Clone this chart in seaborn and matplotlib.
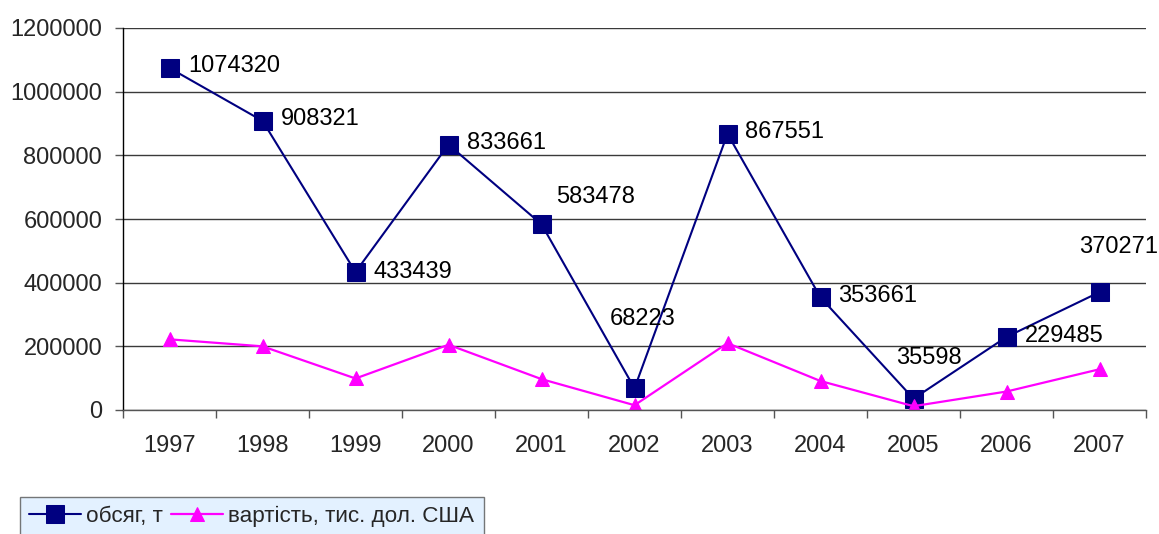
import numpy as np
import pandas as pd
import seaborn as sns
import matplotlib.pyplot as plt
from matplotlib.ticker import FixedLocator, NullFormatter

years = ['1997', '1998', '1999', '2000', '2001', '2002', '2003', '2004', '2005', '2006', '2007']
volume = [1074320, 908321, 433439, 833661, 583478, 68223, 867551, 353661, 35598, 229485, 370271]
value = [222000, 200000, 99000, 205000, 97000, 15000, 210000, 91000, 12000, 58000, 128000]
name_volume = 'обсяг, т'
name_value = 'вартість, тис. дол. США'

# label placement (pixels from the marker, ha)
label_off = [(19, 2, 'left'), (18, 2, 'left'), (18, 0, 'left'), (18, 2, 'left'),
             (15, 27, 'left'), (8, 69, 'center'), (17, 2, 'left'), (18, 1, 'left'),
             (15, 41, 'center'), (18, 1, 'left'), (19, 45, 'center')]

sns.set_style('white')
plt.rcParams['font.family'] = ['Liberation Sans', 'DejaVu Sans']

fig = plt.figure(figsize=(11.59, 5.34), dpi=100)
ax = fig.add_axes([123 / 1159, 1 - 410 / 534, (1146 - 123) / 1159, (410 - 28) / 534])

idx = np.arange(len(years))
df = pd.DataFrame({'x': idx, 'volume': volume, 'value': value})

sns.lineplot(data=df, x='x', y='volume', ax=ax, color='#000080', linewidth=1.5,
             marker='s', markersize=12.5, markeredgecolor='#000080', label=name_volume)
sns.lineplot(data=df, x='x', y='value', ax=ax, color='#FF00FF', linewidth=1.6,
             marker='^', markersize=10, markeredgecolor='#FF00FF', label=name_value)

for i, v in enumerate(volume):
    dx, dy, ha = label_off[i]
    ax.annotate(str(v), (idx[i], v), xytext=(dx, dy), textcoords='offset pixels',
                ha=ha, va='center', fontsize=17, color='black')

ax.set_xlim(-0.5, len(years) - 0.5)
ax.set_ylim(0, 1200000)
ax.set_yticks(np.arange(0, 1200001, 200000))
ax.set_yticklabels([str(t) for t in range(0, 1200001, 200000)])
ax.yaxis.grid(True, color='#3a3a3a', linewidth=1)
ax.set_axisbelow(True)

ax.xaxis.set_major_locator(FixedLocator(np.arange(-0.5, len(years), 1.0)))
ax.xaxis.set_major_formatter(NullFormatter())
ax.xaxis.set_minor_locator(FixedLocator(idx))
ax.set_xticklabels(years, minor=True)
ax.tick_params(axis='x', which='major', direction='out', length=6, width=1, color='#555555', bottom=True)
ax.tick_params(axis='x', which='minor', length=0, pad=18, labelsize=17)
ax.tick_params(axis='y', direction='out', length=6, width=1, color='#555555', left=True, pad=9, labelsize=17)
ax.set_xlabel('')
ax.set_ylabel('')

for s in ['top', 'right']:
    ax.spines[s].set_visible(False)
ax.spines['left'].set_color('black')
ax.spines['left'].set_linewidth(1)
ax.spines['bottom'].set_color('#555555')
ax.spines['bottom'].set_linewidth(1)

ax.get_legend().remove()
h, l = ax.get_legend_handles_labels()
leg = fig.legend(h, l, loc='upper left', bbox_to_anchor=(20 / 1159, 1 - 497 / 534),
                 ncol=2, frameon=True, fancybox=False, fontsize=16.2,
                 handlelength=2.3, handletextpad=0.25, columnspacing=0.35,
                 borderpad=0.4, borderaxespad=0)
leg.get_frame().set_facecolor('#DDEEFF')
leg.get_frame().set_edgecolor('#555555')
leg.get_frame().set_linewidth(1)

fig.savefig('out.png', dpi=100)
